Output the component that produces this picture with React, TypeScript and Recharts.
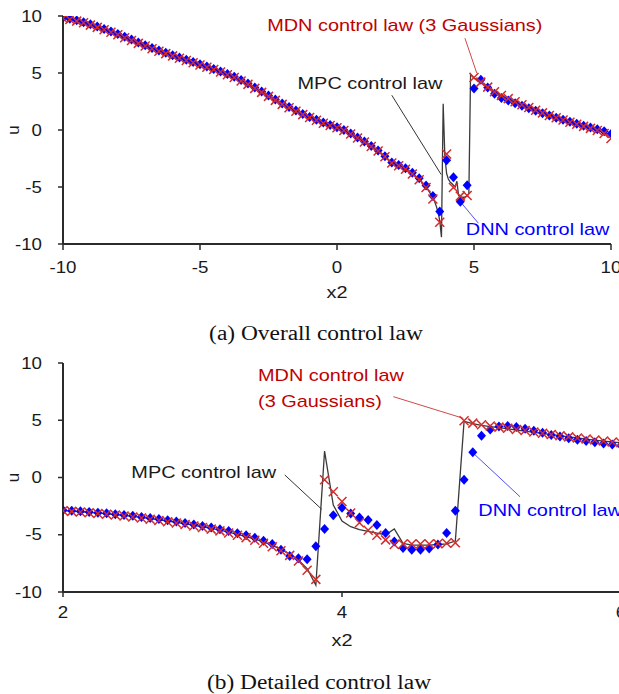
import React from 'react';
import { ComposedChart, Line, Scatter, XAxis, YAxis, ReferenceLine, ReferenceDot } from 'recharts';

// overall control law, x2 from -10 to 10
const overallX = [
  -10, -9.75, -9.5, -9.25, -9, -8.75, -8.5, -8.25, -8, -7.75, -7.5, -7.25, -7, -6.75, -6.5, -6.25, -6, -5.75, -5.5, -5.25,
  -5, -4.75, -4.5, -4.25, -4, -3.75, -3.5, -3.25, -3, -2.75, -2.5, -2.25, -2, -1.75, -1.5, -1.25, -1, -0.75, -0.5, -0.25,
  0, 0.25, 0.5, 0.75, 1, 1.25, 1.5, 1.75, 2, 2.25, 2.5, 2.75, 3, 3.25, 3.5, 3.75, 4, 4.25, 4.5, 4.75,
  5, 5.25, 5.5, 5.75, 6, 6.25, 6.5, 6.75, 7, 7.25, 7.5, 7.75, 8, 8.25, 8.5, 8.75, 9, 9.25, 9.5, 9.75, 10,
];
const overallMdn = [
  9.8, 9.7, 9.55, 9.4, 9.2, 9.0, 8.8, 8.58, 8.35, 8.1,
  7.85, 7.6, 7.37, 7.13, 6.9, 6.7, 6.5, 6.3, 6.1, 5.9,
  5.7, 5.5, 5.3, 5.08, 4.85, 4.6, 4.3, 4.0, 3.65, 3.3,
  2.95, 2.6, 2.25, 1.95, 1.65, 1.35, 1.1, 0.85, 0.6, 0.4,
  0.2, -0.05, -0.35, -0.7, -1.05, -1.45, -1.85, -2.35, -2.9, -3.14,
  -3.45, -3.86, -4.37, -5.05, -6.05, -8.1, -2.1, -5.05, -5.8, -5.75,
  4.6, 4.2, 3.76, 3.36, 3.03, 2.75, 2.48, 2.22, 1.97, 1.73,
  1.5, 1.28, 1.07, 0.87, 0.68, 0.5, 0.32, 0.14, -0.05, -0.3, -0.75,
];
const overallDnn = [
  9.85, 9.75, 9.62, 9.45, 9.27, 9.07, 8.86, 8.64, 8.42, 8.18,
  7.93, 7.68, 7.44, 7.2, 6.98, 6.77, 6.56, 6.36, 6.16, 5.96,
  5.76, 5.56, 5.36, 5.14, 4.92, 4.67, 4.38, 4.08, 3.73, 3.38,
  3.02, 2.67, 2.32, 2.01, 1.71, 1.41, 1.15, 0.9, 0.65, 0.44,
  0.24, -0.01, -0.3, -0.65, -1.0, -1.4, -1.8, -2.3, -2.85, -3.07,
  -3.35, -3.74, -4.23, -4.86, -5.8, -7.15, -2.65, -4.15, -6.3, -4.85,
  3.65, 4.4, 3.72, 3.18, 2.8, 2.58, 2.35, 2.12, 1.9, 1.68,
  1.47, 1.27, 1.08, 0.9, 0.72, 0.55, 0.38, 0.22, 0.06, -0.12, -0.35,
];
// MPC line outside the detailed window (x2 <= 3.25 and x2 >= 5.25)
const overallMpcLeft = [
  9.82, 9.72, 9.58, 9.42, 9.23, 9.03, 8.83, 8.61, 8.38, 8.14,
  7.89, 7.64, 7.4, 7.16, 6.94, 6.73, 6.53, 6.33, 6.13, 5.93,
  5.73, 5.53, 5.33, 5.11, 4.88, 4.63, 4.34, 4.04, 3.69, 3.34,
  2.98, 2.63, 2.28, 1.98, 1.68, 1.38, 1.12, 0.87, 0.62, 0.42,
  0.22, -0.03, -0.33, -0.68, -1.03, -1.43, -1.83, -2.33, -2.88, -3.11,
  -3.4, -3.8, -4.3, -4.96,
];
const overallMpcRight = [
  4.15, 3.75, 3.36, 3.02, 2.72, 2.46, 2.2, 1.96, 1.72, 1.5,
  1.29, 1.09, 0.9, 0.71, 0.53, 0.35, 0.18, 0.0, -0.22, -0.62,
];

// detailed control law, x2 from 2 to 6
const detailX = [
  2, 2.0625, 2.125, 2.1875, 2.25, 2.3125, 2.375, 2.4375, 2.5, 2.5625, 2.625, 2.6875, 2.75, 2.8125, 2.875, 2.9375,
  3, 3.0625, 3.125, 3.1875, 3.25, 3.3125, 3.375, 3.4375, 3.5, 3.5625, 3.625, 3.6875, 3.75, 3.8125, 3.875, 3.9375,
  4, 4.0625, 4.125, 4.1875, 4.25, 4.3125, 4.375, 4.4375, 4.5, 4.5625, 4.625, 4.6875, 4.75, 4.8125, 4.875, 4.9375,
  5, 5.0625, 5.125, 5.1875, 5.25, 5.3125, 5.375, 5.4375, 5.5, 5.5625, 5.625, 5.6875, 5.75, 5.8125, 5.875, 5.9375, 6,
];
const detailMdn = [
  -2.9, -2.96, -3.02, -3.08, -3.14, -3.21, -3.28, -3.36, -3.45, -3.54,
  -3.64, -3.75, -3.86, -3.98, -4.1, -4.23, -4.37, -4.51, -4.66, -4.85,
  -5.05, -5.25, -5.48, -5.74, -6.05, -6.4, -6.8, -7.3, -8.1, -8.9,
  -0.2, -1.25, -2.1, -3.1, -3.95, -4.6, -5.05, -5.45, -5.85, -5.8,
  -5.8, -5.8, -5.8, -5.78, -5.75, -5.7, 4.95, 4.75, 4.6, 4.5,
  4.4, 4.3, 4.2, 4.1, 3.98, 3.87, 3.76, 3.65, 3.55, 3.45,
  3.36, 3.27, 3.18, 3.1, 3.03,
];
const detailDnn = [
  -2.85, -2.9, -2.95, -3.01, -3.07, -3.13, -3.2, -3.27, -3.35, -3.44,
  -3.53, -3.63, -3.74, -3.85, -3.97, -4.1, -4.23, -4.37, -4.52, -4.68,
  -4.86, -5.05, -5.27, -5.52, -5.8, -6.3, -6.85, -7.05, -7.15, -6.0,
  -4.5, -3.3, -2.65, -3.15, -3.5, -3.72, -4.15, -4.85, -5.6, -6.15,
  -6.3, -6.3, -6.2, -5.85, -4.85, -2.9, -0.2, 2.2, 3.65, 4.2,
  4.45, 4.5, 4.4, 4.25, 4.08, 3.9, 3.72, 3.57, 3.43, 3.3,
  3.18, 3.07, 2.97, 2.88, 2.8,
];
const detailMpc = [
  -2.88, -2.93, -2.99, -3.05, -3.11, -3.17, -3.24, -3.32, -3.4, -3.49,
  -3.59, -3.69, -3.8, -3.92, -4.04, -4.17, -4.3, -4.44, -4.59, -4.77,
  -4.96, -5.16, -5.38, -5.63, -5.93, -6.28, -6.7, -7.2, -7.95, -9.4,
  2.3, -2.4, -3.8, -4.3, -4.55, -4.7, -4.85, -5.0, -4.5, -5.75,
  -5.9, -5.9, -5.9, -5.85, -5.8, -5.55, 4.9, 4.7, 4.55, 4.45,
  4.35, 4.25, 4.15, 4.05, 3.95, 3.85, 3.75, 3.65, 3.55, 3.45,
  3.36, 3.27, 3.18, 3.1, 3.02,
];

const overallTicks = [-10, -5, 0, 5, 10];
const detailTicks = [2, 4, 6];
const uTicks = [-10, -5, 0, 5, 10];

const SANS = '"Liberation Sans", Arial, sans-serif';
const SERIF = '"Liberation Serif", "Times New Roman", serif';
const WIDE = 1.17; // the reference text is a little wider than plain Arial
const RED = '#d42b2b';
const RED_TEXT = '#c00000';
const BLUE = '#0000ff';
const GREY = '#3a3a3a';
const AXIS = '#2b2b2b';

const zip = (xs: number[], us: number[]) => xs.map((x, i) => ({ x, u: us[i] }));

const overallMdnData = zip(overallX, overallMdn);
const overallDnnData = zip(overallX, overallDnn);
const overallMpcData = [
  ...zip(overallX.slice(0, 54), overallMpcLeft),
  ...zip(detailX.slice(24, 49), detailMpc.slice(24, 49)),
  ...zip(overallX.slice(61), overallMpcRight),
];
const detailMdnData = zip(detailX, detailMdn);
const detailDnnData = zip(detailX, detailDnn);
const detailMpcData = zip(detailX, detailMpc);

type Note = { x: number; y: number; text: string; color: string };
type Leader = { from: [number, number]; to: [number, number]; color: string };

const overallNotes: Note[] = [
  { x: -2.55, y: 9.21, text: 'MDN control law (3 Gaussians)', color: RED_TEXT },
  { x: -1.44, y: 4.08, text: 'MPC control law', color: '#1a1a1a' },
  { x: 4.7, y: -8.73, text: 'DNN control law', color: BLUE },
];
const overallLeaders: Leader[] = [
  { from: [4.67, 8.05], to: [5.1, 5.0], color: '#d04a4a' },
  { from: [2.0, 3.05], to: [3.8, -3.9], color: '#333333' },
  { from: [4.55, -6.43], to: [5.16, -8.18], color: '#5050ff' },
];
const detailNotes: Note[] = [
  { x: 3.398, y: 8.91, text: 'MDN control law', color: RED_TEXT },
  { x: 3.398, y: 6.68, text: '(3 Gaussians)', color: RED_TEXT },
  { x: 2.49, y: 0.52, text: 'MPC control law', color: '#1a1a1a' },
  { x: 4.977, y: -2.88, text: 'DNN control law', color: BLUE },
];
const detailLeaders: Leader[] = [
  { from: [4.368, 7.06], to: [4.87, 5.17], color: '#d04a4a' },
  { from: [3.59, 0.22], to: [3.855, -2.78], color: '#333333' },
  { from: [4.93, 2.25], to: [5.276, -1.68], color: '#5050ff' },
];

function WideText({ x, y, children, fill = '#1a1a1a', size = 17, anchor = 'start' }: any) {
  return (
    <text
      transform={`translate(${x},${y}) scale(${WIDE},1)`}
      fill={fill}
      fontSize={size}
      fontFamily={SANS}
      textAnchor={anchor}
      dominantBaseline="central"
    >
      {children}
    </text>
  );
}

const Cross = (p: any) => {
  const { cx, cy } = p;
  if (cx == null || cy == null) return <g />;
  const s = 4.5;
  return (
    <path
      d={`M${cx - s},${cy - s}L${cx + s},${cy + s}M${cx - s},${cy + s}L${cx + s},${cy - s}`}
      stroke={RED}
      strokeWidth={1.5}
      fill="none"
    />
  );
};

const Diamond = (p: any) => {
  const { cx, cy } = p;
  if (cx == null || cy == null) return <g />;
  return <path d={`M${cx},${cy - 5}L${cx + 4.5},${cy}L${cx},${cy + 5}L${cx - 4.5},${cy}Z`} fill={BLUE} />;
};

function Panel({
  width, height, right, xDomain, xTicks, xTickSize, xLabelDy, mdn, dnn, mpc, notes, leaders,
}: any) {
  return (
    <ComposedChart width={width} height={height} margin={{ top: 16, right, bottom: 0, left: 0 }}>
      <XAxis
        type="number"
        dataKey="x"
        domain={xDomain}
        ticks={xTicks}
        interval={0}
        allowDataOverflow
        height={60}
        tickSize={xTickSize}
        tickMargin={0}
        axisLine={{ stroke: AXIS, strokeWidth: 2 }}
        tickLine={{ stroke: AXIS, strokeWidth: 1.5 }}
        tick={(p: any) => (
          <WideText x={p.x} y={p.y + xLabelDy} anchor="middle" size={16}>{p.payload.value}</WideText>
        )}
        label={{
          content: (p: any) => {
            const vb = p.viewBox || { x: 63, y: 244, width: 548, height: 60 };
            return <WideText x={vb.x + vb.width / 2} y={vb.y + 48} anchor="middle" size={17}>x2</WideText>;
          },
        }}
      />
      <YAxis
        type="number"
        dataKey="u"
        domain={[-10, 10]}
        ticks={uTicks}
        interval={0}
        allowDataOverflow
        width={63}
        tickSize={5}
        tickMargin={0}
        axisLine={{ stroke: AXIS, strokeWidth: 2 }}
        tickLine={{ stroke: AXIS, strokeWidth: 1.5 }}
        tick={(p: any) => (
          <WideText x={p.x - 16} y={p.y} anchor="end" size={16}>{p.payload.value}</WideText>
        )}
        label={{
          content: (p: any) => {
            const vb = p.viewBox || { x: 0, y: 16, width: 63, height: 228 };
            return (
              <text
                transform={`translate(${vb.x + 13},${vb.y + vb.height / 2}) rotate(-90)`}
                textAnchor="middle"
                dominantBaseline="central"
                fontSize={17}
                fontFamily={SANS}
                fill="#1a1a1a"
              >
                u
              </text>
            );
          },
        }}
      />
      <Line data={mpc} dataKey="u" type="linear" stroke={GREY} strokeWidth={1.3} dot={false} isAnimationActive={false} />
      <Scatter data={dnn} shape={Diamond} isAnimationActive={false} />
      <Scatter data={mdn} shape={Cross} isAnimationActive={false} />
      {leaders.map((l: Leader, i: number) => (
        <ReferenceLine
          key={`l${i}`}
          segment={[{ x: l.from[0], y: l.from[1] }, { x: l.to[0], y: l.to[1] }]}
          stroke={l.color}
          strokeWidth={1}
          ifOverflow="visible"
        />
      ))}
      {notes.map((n: Note, i: number) => (
        <ReferenceDot
          key={`n${i}`}
          x={n.x}
          y={n.y}
          r={1}
          ifOverflow="visible"
          shape={(p: any) => <WideText x={p.cx} y={p.cy} fill={n.color} size={17}>{n.text}</WideText>}
        />
      ))}
    </ComposedChart>
  );
}

function Caption({ x, y, children }: any) {
  return (
    <div
      style={{
        position: 'absolute',
        left: x,
        top: y,
        transform: `translate(-50%, -50%) scaleX(${WIDE})`,
        fontFamily: SERIF,
        fontSize: 20,
        whiteSpace: 'nowrap',
        color: '#111',
        lineHeight: 1,
      }}
    >
      {children}
    </div>
  );
}

export default function App() {
  return (
    <div style={{ position: 'fixed', left: 0, top: 0, width: 619, height: 694, overflow: 'hidden', background: '#fff' }}>
      <div style={{ position: 'absolute', left: 0, top: 0 }}>
        <Panel
          width={619}
          height={304}
          right={8}
          xDomain={[-10, 10]}
          xTicks={overallTicks}
          xTickSize={6}
          xLabelDy={17.5}
          mdn={overallMdnData}
          dnn={overallDnnData}
          mpc={overallMpcData}
          notes={overallNotes}
          leaders={overallLeaders}
        />
      </div>
      <Caption x={316} y={333}>(a) Overall control law</Caption>
      <div style={{ position: 'absolute', left: 0, top: 347 }}>
        <Panel
          width={640}
          height={305}
          right={19}
          xDomain={[2, 6]}
          xTicks={detailTicks}
          xTickSize={5}
          xLabelDy={15}
          mdn={detailMdnData}
          dnn={detailDnnData}
          mpc={detailMpcData}
          notes={detailNotes}
          leaders={detailLeaders}
        />
      </div>
      <Caption x={319} y={682}>(b) Detailed control law</Caption>
    </div>
  );
}
